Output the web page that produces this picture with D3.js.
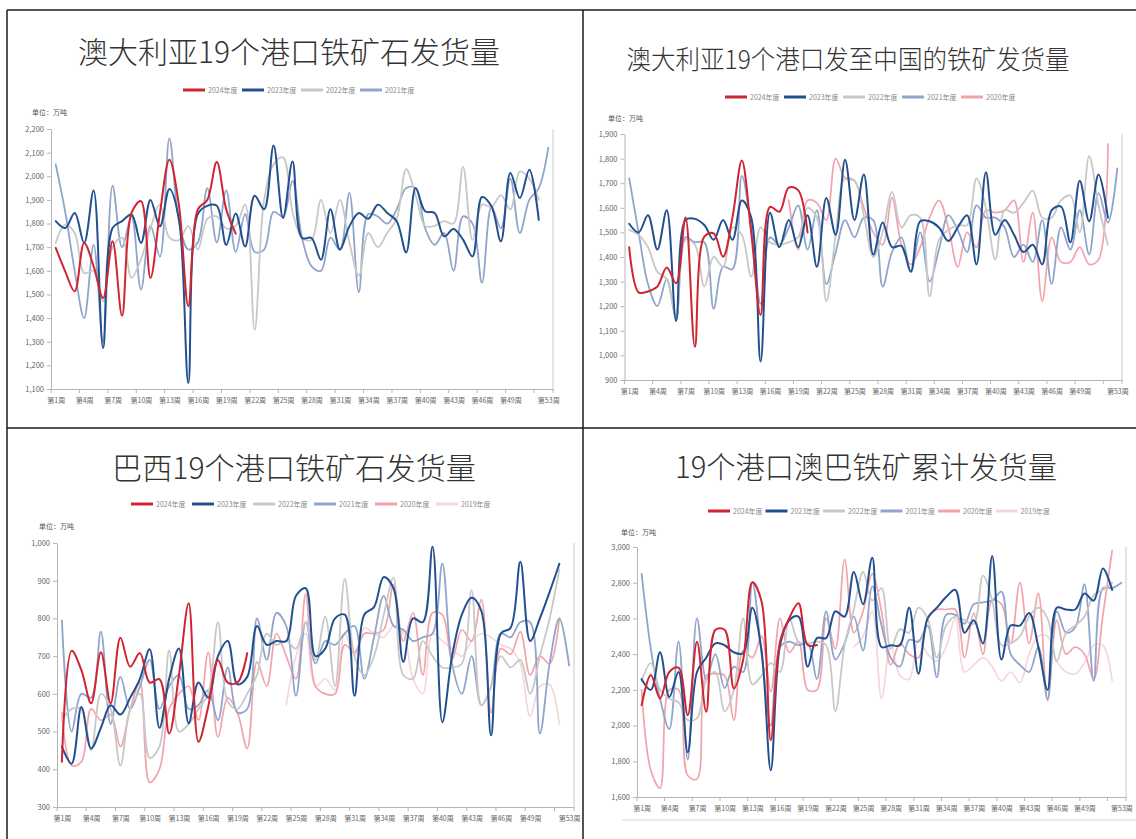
<!DOCTYPE html>
<html><head><meta charset="utf-8">
<script src="https://cdn.jsdelivr.net/npm/d3@7"></script>
<style>
html,body{margin:0;padding:0;background:#fff;}
text{font-family:"Noto Sans CJK SC","Noto Sans",sans-serif;}
</style></head>
<body><svg id="c" width="1136" height="839"></svg>
<script>
// ---------- categories & tick labels ----------
const weeks = [1,2,3,4,5,6,7,8,9,10,11,12,13,14,15,16,17,18,19,20,21,22,23,24,25,26,27,28,29,30,31,32,33,34,35,36,37,38,39,40,41,42,43,44,45,46,47,48,49,50,51,52,53];
const xTickWeeks = [1,4,7,10,13,16,19,22,25,28,31,34,37,40,43,46,49,52];
const xLabelWeeks = [1,4,7,10,13,16,19,22,25,28,31,34,37,40,43,46,49,53];
const years = ["2024年度","2023年度","2022年度","2021年度","2020年度","2019年度"];
const titles = ["澳大利亚19个港口铁矿石发货量","澳大利亚19个港口发至中国的铁矿发货量","巴西19个港口铁矿石发货量","19个港口澳巴铁矿累计发货量"];
const unitLabel = "单位：万吨";
const yTicks1 = [1100,1200,1300,1400,1500,1600,1700,1800,1900,2000,2100,2200];
const yTicks2 = [900,1000,1100,1200,1300,1400,1500,1600,1700,1800,1900];
const yTicks3 = [300,400,500,600,700,800,900,1000];
const yTicks4 = [1600,1800,2000,2200,2400,2600,2800,3000];

// ---------- panel 1: 澳大利亚19个港口铁矿石发货量 ----------
const p1_2024 = [1697,1598,1513,1718,1620,1485,1725,1410,1845,1895,1570,1845,2070,1880,1450,1860,1900,2060,1860,1757];
const p1_2023 = [1810,1781,1845,1718,1940,1273,1781,1810,1838,1718,1900,1788,1946,1820,1125,1840,1875,1875,1710,1842,1703,1918,1860,2130,1823,2063,1739,1739,1647,1860,1690,1788,1845,1820,1880,1845,1810,1678,1950,1852,1845,1746,1777,1732,1661,1912,1873,1725,2014,1908,2028,1816];
const p1_2022 = [1718,1795,1760,1590,1600,1470,1700,1740,1570,1650,1780,1880,1740,1730,1790,1690,1820,1830,1780,1790,1880,1350,1900,2050,2080,1850,1740,1730,1900,1760,1900,1720,1580,1760,1700,1760,1820,2030,1920,1790,1790,1810,1800,2040,1730,1880,1870,1920,1860,2020,1990,1900];
const p1_2021 = [2050,1850,1600,1400,1710,1300,1960,1700,1830,1520,1790,1660,2160,1810,1690,1720,1950,1720,1940,1680,1840,1680,1690,1850,1830,1980,1740,1620,1600,1740,1690,1930,1510,1840,1830,1800,1860,1950,1950,1780,1710,1760,1600,1830,1800,1550,1870,1780,1990,1760,1900,1950,2120];

// ---------- panel 2: 澳大利亚19个港口发至中国的铁矿发货量 ----------
const p2_2024 = [1440,1256,1260,1280,1357,1293,1561,1035,1483,1496,1401,1560,1792,1500,1164,1604,1584,1682,1672,1500];
const p2_2023 = [1535,1500,1570,1430,1590,1140,1550,1555,1530,1470,1550,1470,1630,1560,975,1580,1440,1550,1440,1570,1360,1640,1490,1795,1550,1735,1410,1540,1440,1445,1340,1545,1545,1520,1465,1520,1570,1370,1745,1490,1550,1490,1420,1450,1370,1590,1605,1460,1710,1545,1735,1560];
const p2_2022 = [1510,1490,1440,1340,1310,1160,1470,1450,1280,1400,1360,1520,1490,1320,1520,1460,1450,1460,1480,1600,1560,1220,1490,1720,1710,1570,1400,1500,1665,1520,1570,1560,1240,1470,1510,1530,1530,1720,1600,1390,1590,1580,1620,1670,1560,1560,1630,1650,1500,1810,1610,1450];
const p2_2021 = [1720,1500,1290,1200,1310,1150,1480,1460,1460,1190,1360,1350,1730,1520,1210,1480,1450,1520,1610,1430,1590,1290,1420,1550,1480,1560,1550,1280,1420,1480,1340,1500,1300,1430,1570,1510,1420,1610,1560,1560,1520,1400,1450,1380,1550,1290,1520,1430,1590,1410,1660,1540,1760];
const p2_2020 = [null,null,null,null,null,null,null,null,null,null,null,null,null,null,null,null,null,1630,1430,1630,1620,1550,1800,1720,1710,1600,1500,1450,1640,1450,1370,1440,1560,1630,1520,1360,1500,1440,1590,1580,1590,1630,1380,1580,1220,1480,1380,1380,1440,1370,1390,1860];

// ---------- panel 3: 巴西19个港口铁矿石发货量 ----------
const p3_2024 = [420,714,663,575,710,575,749,672,708,630,639,495,650,840,473,566,690,630,630,708];
const p3_2023 = [460,415,565,455,510,570,545,590,640,718,510,640,720,522,630,590,700,740,625,645,780,730,740,740,860,880,700,720,800,810,595,810,830,910,880,685,800,790,990,525,700,810,855,820,490,760,775,950,740,800,870,945];
const p3_2022 = [530,560,560,450,600,560,410,560,600,430,460,715,500,520,560,600,790,580,560,600,650,760,730,740,720,790,690,805,620,905,700,650,700,810,908,650,640,740,700,670,670,680,875,570,620,700,670,690,600,700,800,930];
const p3_2021 = [795,500,600,590,765,520,645,560,620,690,560,620,650,560,570,610,530,670,550,560,800,690,815,780,595,790,680,740,730,760,780,640,750,860,780,770,740,750,760,945,680,600,700,570,620,760,750,790,790,495,680,800,675];
const p3_2020 = [550,410,420,560,530,545,460,560,630,365,400,560,600,620,530,710,485,590,550,455,685,620,760,700,640,865,620,600,600,730,710,760,760,770,890,740,815,650,815,810,690,770,740,850,550,720,705,765,650,700,680,800];
const p3_2019 = [null,null,null,null,null,null,null,null,null,null,null,null,null,null,null,null,null,null,null,null,null,null,null,570,700,760,620,640,610,760,700,775,760,750,780,760,640,600,760,740,720,700,740,760,750,730,720,680,540,620,625,520];

// ---------- panel 4: 19个港口澳巴铁矿累计发货量 ----------
const p4_2024 = [2114,2283,2152,2300,2324,2058,2470,2077,2536,2536,2208,2367,2803,2695,1918,2470,2601,2685,2451,2451];
const p4_2023 = [2260,2200,2410,2160,2300,1850,2300,2380,2460,2450,2410,2405,2660,2420,1750,2450,2590,2610,2330,2490,2490,2640,2610,2860,2680,2940,2440,2450,2450,2660,2290,2600,2660,2720,2760,2520,2590,2460,2950,2370,2560,2560,2630,2440,2200,2660,2650,2650,2740,2700,2880,2760];
const p4_2022 = [2250,2350,2200,2150,2130,2030,2040,2250,2300,2080,2200,2600,2230,2280,2350,2300,2600,2470,2460,2470,2450,2080,2450,2650,2860,2700,2770,2430,2540,2520,2660,2600,2380,2560,2610,2590,2570,2840,2700,2450,2460,2500,2610,2660,2600,2360,2520,2560,2610,2730,2760,2800];
const p4_2021 = [2850,2430,2150,1980,2470,1810,2600,2260,2400,2210,2330,2300,2800,2400,2000,2440,2470,2450,2460,2260,2640,2370,2460,2610,2420,2780,2560,2380,2330,2480,2470,2560,2270,2620,2620,2570,2680,2690,2700,2750,2400,2340,2300,2440,2150,2640,2520,2550,2790,2250,2770,2770,2800];
const p4_2020 = [2200,1750,1650,2200,2200,1720,1700,2280,2290,2280,2030,2420,2380,2500,2190,2600,2410,2470,2200,2200,2600,2430,2930,2520,2640,2850,2640,2340,2460,2400,2380,2600,2650,2650,2650,2380,2630,2400,2700,2680,2460,2800,2460,2740,2140,2590,2400,2440,2400,2260,2620,2980];
const p4_2019 = [null,null,null,null,null,null,null,null,null,null,null,null,null,null,null,null,null,null,null,null,null,null,null,2440,2500,2640,2150,2450,2280,2260,2480,2400,2360,2440,2600,2300,2340,2380,2330,2250,2300,2240,2400,2500,2500,2360,2300,2290,2350,2450,2450,2250];

// ---------- styles ----------
const yearColor = {"2024年度":"#cf2431","2023年度":"#22508f","2022年度":"#c8c8c8","2021年度":"#8fa5cc","2020年度":"#f2a3ab","2019年度":"#f5d7da"};
const yearWidth = {"2024年度":2,"2023年度":2,"2022年度":1.8,"2021年度":1.8,"2020年度":1.7,"2019年度":1.7};

const panels = [
  {title:titles[0], tcx:289, tcy:50, tw:422, fs:30,
   legX:183, legY:90, legStep:59, unitX:32, unitY:112,
   xL:51, xR:553, yT:129, yB:389, yMin:1100, yMax:2200, ticks:yTicks1, labY:400,
   series:[p1_2024,p1_2023,p1_2022,p1_2021]},
  {title:titles[1], tcx:848, tcy:57, tw:443, fs:26,
   legX:725, legY:97, legStep:59, unitX:608, unitY:118,
   xL:624.5, xR:1122, yT:134, yB:380, yMin:900, yMax:1900, ticks:yTicks2, labY:391,
   series:[p2_2024,p2_2023,p2_2022,p2_2021,p2_2020]},
  {title:titles[2], tcx:294, tcy:466, tw:364, fs:30,
   legX:131, legY:504, legStep:61, unitX:39, unitY:526,
   xL:57, xR:574, yT:543, yB:807, yMin:300, yMax:1000, ticks:yTicks3, labY:818,
   series:[p3_2024,p3_2023,p3_2022,p3_2021,p3_2020,p3_2019]},
  {title:titles[3], tcx:866, tcy:465, tw:382, fs:30,
   legX:708, legY:511, legStep:57.5, unitX:621, unitY:532,
   xL:637, xR:1126, yT:547, yB:797, yMin:1600, yMax:3000, ticks:yTicks4, labY:808,
   series:[p4_2024,p4_2023,p4_2022,p4_2021,p4_2020,p4_2019]}
];

const svg = d3.select("#c");
svg.append("rect").attr("width",1136).attr("height",839).attr("fill","#fff");

// frame
const frame = svg.append("g").attr("stroke","#1a1a1a").attr("stroke-width",1.5).attr("fill","none");
frame.append("line").attr("x1",7).attr("x2",1136).attr("y1",10).attr("y2",10);
frame.append("line").attr("x1",7).attr("x2",7).attr("y1",10).attr("y2",839);
frame.append("line").attr("x1",583).attr("x2",583).attr("y1",10).attr("y2",839);
frame.append("line").attr("x1",7).attr("x2",1136).attr("y1",428).attr("y2",428);
svg.append("line").attr("x1",622).attr("x2",1136).attr("y1",820).attr("y2",820)
  .attr("stroke","#e3e6ec").attr("stroke-width",1.5);

panels.forEach(p => {
  const g = svg.append("g");
  // title
  g.append("text").attr("x",p.tcx).attr("y",p.tcy).attr("text-anchor","middle")
    .attr("dominant-baseline","central").attr("font-size",p.fs).attr("font-weight",300)
    .attr("fill","#333").attr("textLength",p.tw).attr("lengthAdjust","spacingAndGlyphs")
    .text(p.title);
  // legend
  const nS = p.series.length;
  years.slice(0,nS).forEach((yr,i) => {
    const lx = p.legX + i*p.legStep;
    g.append("line").attr("x1",lx).attr("x2",lx+22).attr("y1",p.legY).attr("y2",p.legY)
      .attr("stroke",yearColor[yr]).attr("stroke-width",3);
    g.append("text").attr("x",lx+25).attr("y",p.legY).attr("dominant-baseline","central")
      .attr("font-size",7).attr("fill","#8a8a8a").text(yr);
  });
  // unit
  g.append("text").attr("x",p.unitX).attr("y",p.unitY).attr("dominant-baseline","central")
    .attr("font-size",7).attr("fill","#555").text(unitLabel);

  const x = d3.scalePoint().domain(weeks).range([p.xL,p.xR]).padding(0.5);
  const step = x.step();
  const y = d3.scaleLinear().domain([p.yMin,p.yMax]).range([p.yB,p.yT]);

  // y axis
  const ya = g.append("g").attr("transform",`translate(${p.xL},0)`)
    .call(d3.axisLeft(y).tickValues(p.ticks).tickFormat(d3.format(",")).tickSize(4).tickSizeOuter(0));
  ya.select(".domain").attr("stroke","#b5b5b5");
  ya.selectAll(".tick line").attr("stroke","#b5b5b5");
  ya.selectAll(".tick text").attr("font-size",7.5).attr("fill","#666")
    .attr("font-family","'Liberation Sans','DejaVu Sans',sans-serif");
  // right frame line
  g.append("line").attr("x1",p.xR).attr("x2",p.xR).attr("y1",p.yT).attr("y2",p.yB)
    .attr("stroke","#d4d4d4").attr("stroke-width",1.2);
  // x axis
  const xa = g.append("g").attr("transform",`translate(0,${p.yB})`)
    .call(d3.axisBottom(x).tickValues(xLabelWeeks).tickFormat(w => "第"+w+"周").tickSize(0).tickSizeOuter(0));
  xa.select(".domain").attr("stroke","#b5b5b5");
  xa.selectAll(".tick text").attr("font-size",7).attr("fill","#666").attr("dy",0)
    .attr("y",p.labY - p.yB).attr("dominant-baseline","central");
  xTickWeeks.forEach(w => {
    g.append("line").attr("x1",x(w)-step/2).attr("x2",x(w)-step/2)
      .attr("y1",p.yB).attr("y2",p.yB+4).attr("stroke","#b5b5b5");
  });
  g.append("line").attr("x1",p.xR).attr("x2",p.xR).attr("y1",p.yB).attr("y2",p.yB+4).attr("stroke","#b5b5b5");

  // series: oldest first, 2024 on top
  const line = d3.line().defined(d => d.v != null)
    .x(d => x(d.w)).y(d => y(d.v)).curve(d3.curveCatmullRom.alpha(0.5));
  for (let i = nS-1; i >= 0; i--) {
    const yr = years[i];
    const data = p.series[i].map((v,k) => ({w:weeks[k], v:v}));
    g.append("path").datum(data).attr("d",line).attr("fill","none")
      .attr("stroke",yearColor[yr]).attr("stroke-width",yearWidth[yr])
      .attr("stroke-linejoin","round").attr("stroke-linecap","round");
  }
});
</script>
</body></html>
